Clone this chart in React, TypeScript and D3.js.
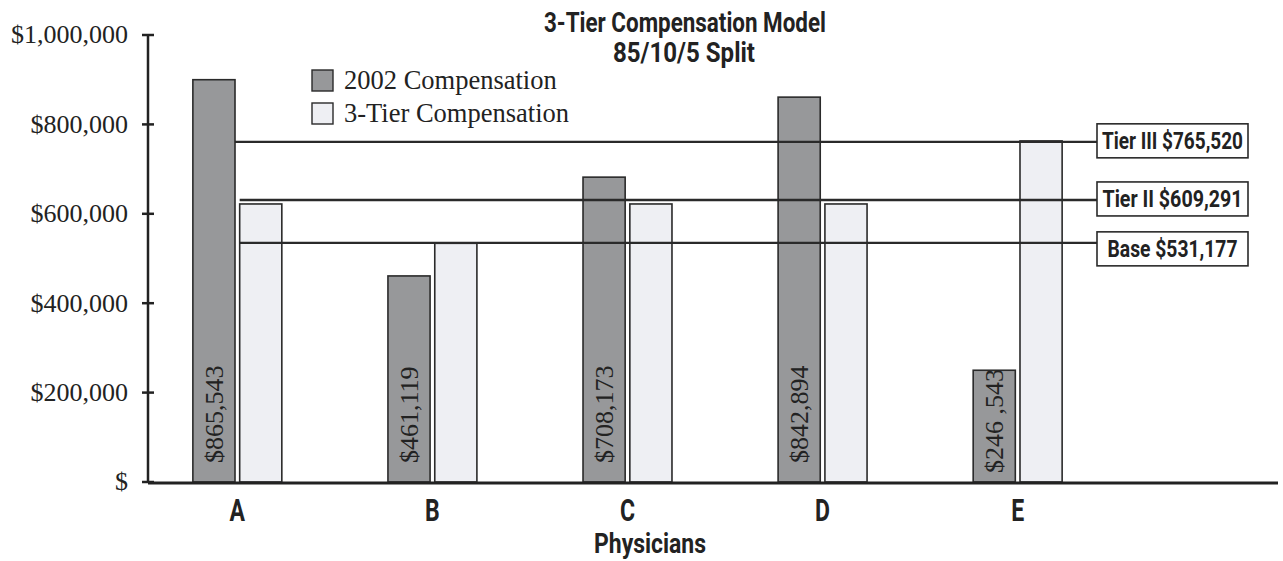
import React from 'react';
import * as d3 from 'd3';

// ---- data ----
const categories = ['A', 'B', 'C', 'D', 'E'];
const seriesNames = ['2002 Compensation', '3-Tier Compensation'];
const comp2002 = [900000, 461000, 682000, 861000, 250000];
const comp2002Labels = ['$865,543', '$461,119', '$708,173', '$842,894', '$246 ,543'];
const comp3Tier = [622000, 534000, 622000, 622000, 763000];
const tierNames = ['Tier III $765,520', 'Tier II $609,291', 'Base $531,177'];
const tierLevels = [761000, 631000, 535000];
const yTicks = [0, 200000, 400000, 600000, 800000, 1000000];
const yTickLabels = ['$', '$200,000', '$400,000', '$600,000', '$800,000', '$1,000,000'];
const titleLines = ['3-Tier Compensation Model', '85/10/5 Split'];
const xTitle = 'Physicians';

// ---- styles ----
const W = 1283;
const H = 561;
const SERIF = "'Liberation Serif', 'Times New Roman', serif";
const COND = "'Roboto', 'Liberation Sans', sans-serif";
const INK = '#222';
const DARK = '#97989a';
const LIGHT = '#eeeff3';
const labelLift = [19, 19, 19, 19, 9];

export default function App() {
  const y = d3.scaleLinear().domain([0, 1000000]).range([482, 35]);
  const x = d3.scaleBand<string>().domain(categories).range([148, 1107]).paddingInner(0.544).paddingOuter(0.23);
  const xs = d3.scaleBand<string>().domain(['s0', 's1']).range([0, x.bandwidth()]).paddingInner(0.1);
  const bw = xs.bandwidth();
  const axisX = 148;
  const baseY = y(0);
  const boxX0 = 1097;
  const boxX1 = 1248;
  const boxTop = [-18, -18, -11];
  const boxH = 34;
  const boxTextLen = [141, 140, 130];

  return (
    <svg width={W} height={H} style={{ position: 'absolute', left: 0, top: 0, background: '#fff' }}>
      {/* title */}
      <text x={685} y={32} textAnchor="middle" fontFamily={COND} fontWeight="bold" fontSize={28} fill={INK}
        textLength={282} lengthAdjust="spacingAndGlyphs">{titleLines[0]}</text>
      <text x={684} y={62} textAnchor="middle" fontFamily={COND} fontWeight="bold" fontSize={28} fill={INK}
        textLength={142} lengthAdjust="spacingAndGlyphs">{titleLines[1]}</text>

      {/* bars */}
      {categories.map((c, i) => (
        <g key={c}>
          <rect x={x(c)! + xs('s0')!} y={y(comp2002[i])} width={bw} height={baseY - y(comp2002[i])}
            fill={DARK} stroke="#2a2a2a" strokeWidth={1.6} />
          <rect x={x(c)! + xs('s1')!} y={y(comp3Tier[i])} width={bw} height={baseY - y(comp3Tier[i])}
            fill={LIGHT} stroke="#2a2a2a" strokeWidth={1.6} />
        </g>
      ))}

      {/* bar value labels */}
      {categories.map((c, i) => {
        const cx = x(c)! + xs('s0')! + bw / 2;
        const yy = baseY - labelLift[i];
        return (
          <text key={'l' + c} transform={`translate(${cx},${yy}) rotate(-90)`} dy="0.34em" fontFamily={SERIF}
            fontSize={26} fill={INK}>{comp2002Labels[i]}</text>
        );
      })}

      {/* tier lines */}
      {tierLevels.map((v, i) => {
        const x0 = i === 0 ? x(categories[0])! + xs('s0')! + bw : x(categories[0])! + xs('s1')!;
        const ly = y(v);
        const top = ly + boxTop[i];
        return (
          <g key={'t' + i}>
            <line x1={x0} x2={boxX0} y1={ly} y2={ly} stroke="#2a2a2a" strokeWidth={2.4} />
            <rect x={boxX0} y={top} width={boxX1 - boxX0} height={boxH} fill="#fff" stroke="#2a2a2a" strokeWidth={1.6} />
            <text x={(boxX0 + boxX1) / 2} y={top + boxH / 2 + 8} textAnchor="middle" fontFamily={COND}
              fontWeight="bold" fontSize={23} fill={INK} textLength={boxTextLen[i]} lengthAdjust="spacingAndGlyphs">
              {tierNames[i]}
            </text>
          </g>
        );
      })}

      {/* y axis */}
      <line x1={axisX} x2={axisX} y1={y(1000000)} y2={baseY} stroke={INK} strokeWidth={2.5} />
      {yTicks.map((t, i) => (
        <g key={'y' + t}>
          <line x1={axisX - 6} x2={axisX + 6} y1={y(t)} y2={y(t)} stroke={INK} strokeWidth={2.5} />
          <text x={128} y={y(t)} dy="0.32em" textAnchor="end" fontFamily={SERIF} fontSize={26} fill={INK}>
            {yTickLabels[i]}
          </text>
        </g>
      ))}

      {/* x axis baseline */}
      <line x1={axisX} x2={1278} y1={baseY + 1} y2={baseY + 1} stroke={INK} strokeWidth={3} />
      {categories.map((c) => (
        <text key={'c' + c} transform={`translate(${x(c)! + x.bandwidth() / 2},521) scale(0.72,1)`}
          textAnchor="middle" fontFamily={COND} fontWeight="bold" fontSize={32} fill={INK}>{c}</text>
      ))}
      <text x={650} y={553} textAnchor="middle" fontFamily={COND} fontWeight="bold" fontSize={27} fill={INK}
        textLength={112} lengthAdjust="spacingAndGlyphs">{xTitle}</text>

      {/* legend */}
      {seriesNames.map((s, i) => (
        <g key={'lg' + i}>
          <rect x={312} y={70 + i * 33} width={21} height={21} fill={i === 0 ? DARK : LIGHT} stroke="#2a2a2a"
            strokeWidth={1.4} />
          <text x={344} y={89 + i * 33} fontFamily={SERIF} fontSize={26.5} fill={INK}>{s}</text>
        </g>
      ))}
    </svg>
  );
}
